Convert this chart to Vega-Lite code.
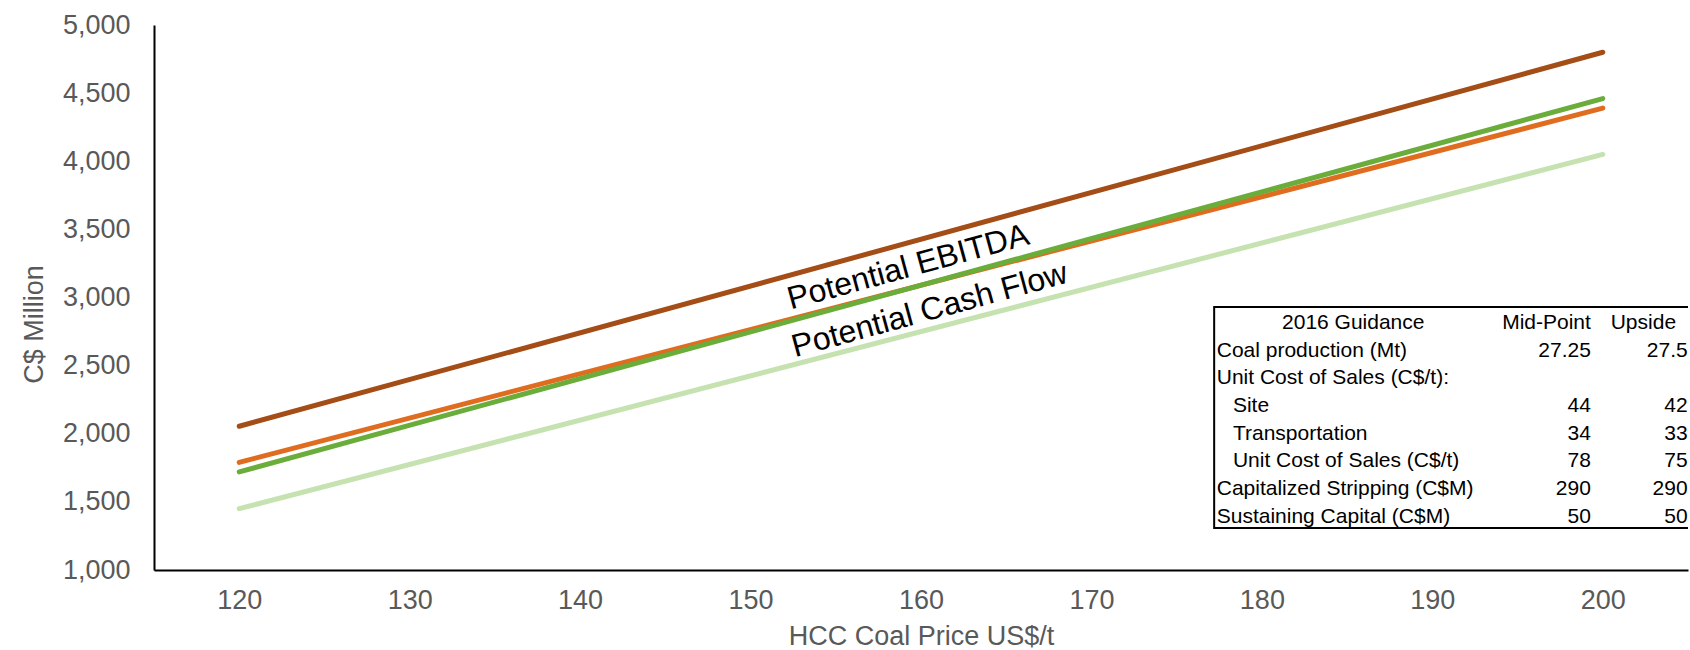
{
  "$schema": "https://vega.github.io/schema/vega-lite/v6.json",
  "width": 1534,
  "height": 545,
  "autosize": "none",
  "padding": {"left": 154, "top": 25, "right": 2, "bottom": 80},
  "config": {
    "font": "Liberation Sans",
    "view": {"stroke": null},
    "axis": {
      "domainColor": "#000000",
      "domainWidth": 2,
      "ticks": false,
      "grid": false,
      "labelColor": "#595959",
      "labelFontSize": 27,
      "titleColor": "#595959",
      "titleFontSize": 27,
      "titleFontWeight": "normal"
    }
  },
  "datasets": {
    "lines": [
      {"series": "Potential Cash Flow - Mid-Point", "price": 120, "value": 1450},
      {"series": "Potential Cash Flow - Mid-Point", "price": 200, "value": 4050},
      {"series": "Potential EBITDA - Upside", "price": 120, "value": 2055},
      {"series": "Potential EBITDA - Upside", "price": 200, "value": 4800},
      {"series": "Potential EBITDA - Mid-Point", "price": 120, "value": 1790},
      {"series": "Potential EBITDA - Mid-Point", "price": 200, "value": 4390},
      {"series": "Potential Cash Flow - Upside", "price": 120, "value": 1720},
      {"series": "Potential Cash Flow - Upside", "price": 200, "value": 4460}
    ],
    "table": [
      {"row": 0, "label": "2016 Guidance", "mid": "Mid-Point", "up": "Upside"},
      {"row": 1, "label": "Coal production (Mt)", "mid": "27.25", "up": "27.5"},
      {"row": 2, "label": "Unit Cost of Sales (C$/t):", "mid": "", "up": ""},
      {"row": 3, "label": "Site", "mid": "44", "up": "42"},
      {"row": 4, "label": "Transportation", "mid": "34", "up": "33"},
      {"row": 5, "label": "Unit Cost of Sales (C$/t)", "mid": "78", "up": "75"},
      {"row": 6, "label": "Capitalized Stripping (C$M)", "mid": "290", "up": "290"},
      {"row": 7, "label": "Sustaining Capital (C$M)", "mid": "50", "up": "50"}
    ]
  },
  "layer": [
    {
      "layer": [
        {
          "data": {"name": "lines"},
          "mark": {"type": "line", "strokeWidth": 5, "strokeCap": "round"},
          "encoding": {
            "x": {
              "field": "price", "type": "quantitative",
              "scale": {"domain": [115, 205], "nice": false, "zero": false},
              "axis": {"values": [120, 130, 140, 150, 160, 170, 180, 190, 200], "title": "HCC Coal Price US$/t", "labelPadding": 17, "titlePadding": 10}
            },
            "y": {
              "field": "value", "type": "quantitative",
              "scale": {"domain": [1000, 5000], "nice": false, "zero": false},
              "axis": {"values": [1000, 1500, 2000, 2500, 3000, 3500, 4000, 4500, 5000], "format": ",.0f", "title": "C$ Million", "labelPadding": 24, "titlePadding": 14, "titleY": 299}
            },
            "color": {
              "field": "series", "type": "nominal",
              "scale": {
                "domain": ["Potential Cash Flow - Mid-Point", "Potential EBITDA - Upside", "Potential EBITDA - Mid-Point", "Potential Cash Flow - Upside"],
                "range": ["#C5E2B0", "#A44D16", "#E06C1F", "#6AAD3A"]
              },
              "legend": null
            },
            "order": {"field": "price", "type": "quantitative"}
          }
        },
        {
          "data": {"values": [{"label": "Potential EBITDA"}]},
          "mark": {"type": "text", "fontSize": 32, "angle": -15.3, "align": "center", "baseline": "middle", "color": "#000000"},
          "encoding": {
            "x": {"datum": 159.25, "type": "quantitative"},
            "y": {"datum": 3224, "type": "quantitative"},
            "text": {"field": "label"}
          }
        },
        {
          "data": {"values": [{"label": "Potential Cash Flow"}]},
          "mark": {"type": "text", "fontSize": 32, "angle": -15.3, "align": "center", "baseline": "middle", "color": "#000000"},
          "encoding": {
            "x": {"datum": 160.5, "type": "quantitative"},
            "y": {"datum": 2908, "type": "quantitative"},
            "text": {"field": "label"}
          }
        }
      ]
    },
    {
      "data": {"name": "table"},
      "layer": [
        {
          "data": {"values": [{"box": "guidance"}]},
          "mark": {"type": "rect", "fill": "#ffffff", "stroke": "#000000", "strokeWidth": 2, "clip": true},
          "encoding": {
            "x": {"datum": 177.2, "type": "quantitative"},
            "x2": {"datum": 206},
            "y": {"datum": -0.58, "type": "quantitative", "scale": {"domain": [-10.76, 8.92], "reverse": true, "nice": false, "zero": false}, "axis": null},
            "y2": {"datum": 7.4}
          }
        },
        {
          "transform": [{"filter": "datum.row > 0 && (datum.row < 3 || datum.row > 5)"}],
          "mark": {"type": "text", "fontSize": 21, "align": "left", "baseline": "middle", "color": "#000000"},
          "encoding": {
            "x": {"datum": 177.35, "type": "quantitative"},
            "y": {"field": "row", "type": "quantitative", "axis": null},
            "text": {"field": "label"}
          }
        },
        {
          "transform": [{"filter": "datum.row >= 3 && datum.row <= 5"}],
          "mark": {"type": "text", "fontSize": 21, "align": "left", "baseline": "middle", "color": "#000000"},
          "encoding": {
            "x": {"datum": 178.3, "type": "quantitative"},
            "y": {"field": "row", "type": "quantitative", "axis": null},
            "text": {"field": "label"}
          }
        },
        {
          "transform": [{"filter": "datum.row == 0"}],
          "mark": {"type": "text", "fontSize": 21, "align": "center", "baseline": "middle", "color": "#000000"},
          "encoding": {
            "x": {"datum": 185.36, "type": "quantitative"},
            "y": {"field": "row", "type": "quantitative", "axis": null},
            "text": {"field": "label"}
          }
        },
        {
          "mark": {"type": "text", "fontSize": 21, "align": "right", "baseline": "middle", "color": "#000000"},
          "encoding": {
            "x": {"datum": 199.3, "type": "quantitative"},
            "y": {"field": "row", "type": "quantitative", "axis": null},
            "text": {"field": "mid"}
          }
        },
        {
          "transform": [{"filter": "datum.row > 0"}],
          "mark": {"type": "text", "fontSize": 21, "align": "right", "baseline": "middle", "color": "#000000"},
          "encoding": {
            "x": {"datum": 204.98, "type": "quantitative"},
            "y": {"field": "row", "type": "quantitative", "axis": null},
            "text": {"field": "up"}
          }
        },
        {
          "transform": [{"filter": "datum.row == 0"}],
          "mark": {"type": "text", "fontSize": 21, "align": "right", "baseline": "middle", "color": "#000000"},
          "encoding": {
            "x": {"datum": 204.3, "type": "quantitative"},
            "y": {"field": "row", "type": "quantitative", "axis": null},
            "text": {"field": "up"}
          }
        }
      ]
    }
  ],
  "resolve": {"scale": {"y": "independent"}, "axis": {"y": "independent"}}
}
